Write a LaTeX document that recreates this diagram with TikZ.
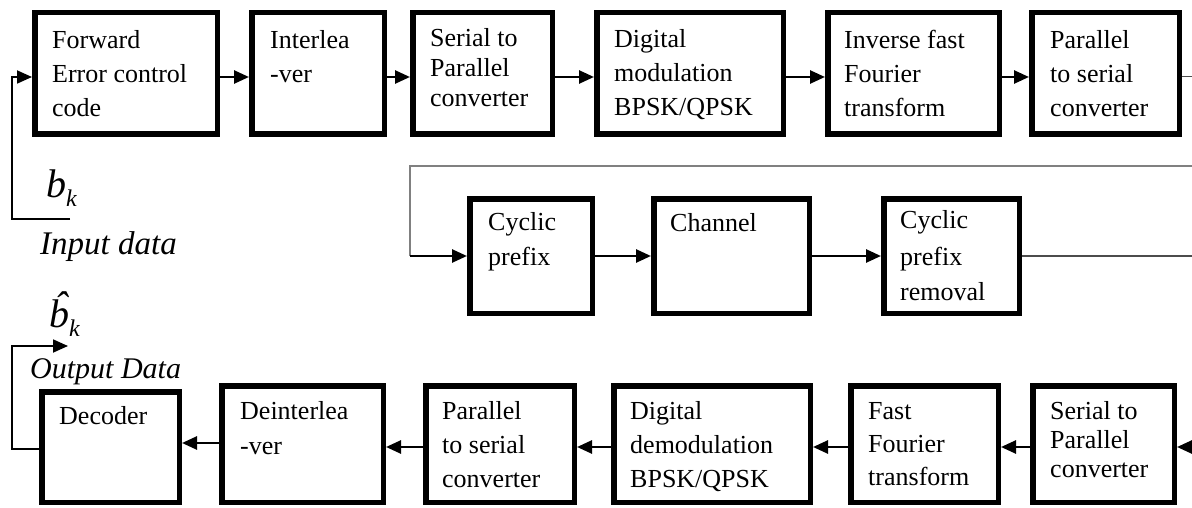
\documentclass[tikz,border=0pt]{standalone}
\usepackage{fontspec}
\setmainfont{Liberation Serif}
\usetikzlibrary{arrows.meta,calc}

\tikzset{
  blk/.style={draw=black, line width=5.5pt, rectangle, inner sep=0pt, fill=white},
  txt/.style={inner sep=0pt, anchor=base west, font=\fontsize{26}{34}\selectfont},
  lbl/.style={inner sep=0pt, anchor=base west},
  arr/.style={line width=2.6pt, draw=black, -{Triangle[length=15pt,width=13pt]}},
  arrthin/.style={line width=1.8pt, draw=black, -{Triangle[length=15pt,width=13pt]}},
  wire/.style={line width=1.7pt, draw=black!70},
  gwire/.style={line width=1.6pt, draw=black!50},
}

% block from outer corner (x1,y1) to (x2,y2), in pixel-like units
\newcommand\blockat[5]{%
  \node[blk, minimum width={(#4-#2-5.5)*1pt}, minimum height={(#5-#3-5.5)*1pt}]
    (#1) at ({(#2+#4)/2},{(#3+#5)/2}) {};}
% left-aligned text lines inside a block, first baseline at the given offset
\newcommand\blocktext[4]{%
  \node[txt] (#1) at ($(#2.north west)+(#3)$) {\begin{tabular}[t]{@{}l@{}}#4\end{tabular}};}

\begin{document}
\begin{tikzpicture}[x=1pt, y=-1pt]
\useasboundingbox (0,0) rectangle (1192,508);

% ---- transmitter chain ----
\blockat{fec}{32}{10}{220}{137}
\blockat{ilv}{249}{10}{387}{137}
\blockat{sp}{410}{10}{555}{137}
\blockat{mod}{594}{10}{786}{137}
\blockat{ifft}{825}{10}{1002}{137}
\blockat{ps}{1029}{10}{1182}{137}

\blocktext{fect}{fec}{20,39}{Forward\\Error control\\code}
\blocktext{ilvt}{ilv}{21,39}{Interlea\\-ver}
\blocktext{spt}{sp}{20,37}{Serial to\\[-4pt]Parallel\\[-4pt]converter}
\blocktext{modt}{mod}{20,38}{Digital\\modulation\\BPSK/QPSK}
\blocktext{ifftt}{ifft}{19,39}{Inverse fast\\Fourier\\transform}
\blocktext{pst}{ps}{21,39}{Parallel\\to serial\\converter}

\draw[arr] ([yshift=-3.5pt]fec.east) -- ([yshift=-3.5pt]ilv.west);
\draw[arr] ([yshift=-3.5pt]ilv.east) -- ([yshift=-3.5pt]sp.west);
\draw[arr] ([yshift=-3.5pt]sp.east) -- ([yshift=-3.5pt]mod.west);
\draw[arr] ([yshift=-3.5pt]mod.east) -- ([yshift=-3.5pt]ifft.west);
\draw[arr] ([yshift=-3.5pt]ifft.east) -- ([yshift=-3.5pt]ps.west);
\coordinate (topout) at (1192,76.5);
\draw[wire] ([yshift=-3pt]ps.east) -- (topout);

% input
\coordinate (instart) at (70,219);
\coordinate (incorner) at (12,219);
\draw[arrthin] (instart) -- (incorner) |- ([yshift=-3.5pt]fec.west);
\node[lbl] (bk) at (46,197) {\fontsize{40}{40}\selectfont\itshape b\raisebox{-9pt}{\fontsize{24}{24}\selectfont k}};
\node[lbl] (indata) at (40,254) {\fontsize{33}{33}\selectfont\itshape Input data};

% ---- channel section ----
\blockat{cp}{467}{196}{595}{316}
\blockat{ch}{651}{196}{812}{316}
\blockat{cpr}{881}{196}{1022}{316}

\blocktext{cpt}{cp}{21,34}{Cyclic\\[1pt]prefix}
\blocktext{cht}{ch}{19,35}{Channel}
\blocktext{cprt}{cpr}{19,33}{Cyclic\\[2pt]prefix\\[2pt]removal}

\coordinate (retin) at (1192,166);
\coordinate (retcorner) at (410,166);
\coordinate (retdown) at (410,256);
\draw[gwire] (retin) -- (retcorner) -- (retdown);
\draw[arr] (retdown) -- (cp.west);
\draw[arr] (cp.east) -- (ch.west);
\draw[arr] (ch.east) -- (cpr.west);
\coordinate (midout) at (1192,256);
\draw[wire] (cpr.east) -- (midout);

% ---- receiver chain ----
\blockat{dec}{39}{389}{182}{505}
\blockat{dil}{219}{383}{386}{505}
\blockat{ps2}{423}{383}{577}{505}
\blockat{dem}{611}{383}{813}{505}
\blockat{fft}{848}{383}{1001}{505}
\blockat{sp2}{1030}{383}{1177}{505}

\blocktext{dect}{dec}{20,35}{Decoder}
\blocktext{dilt}{dil}{21,36}{Deinterlea\\[1pt]-ver}
\blocktext{ps2t}{ps2}{19,36}{Parallel\\to serial\\converter}
\blocktext{demt}{dem}{19,36}{Digital\\demodulation\\BPSK/QPSK}
\blocktext{fftt}{fft}{20,36}{Fast\\[-1pt]Fourier\\[-1pt]transform}
\blocktext{sp2t}{sp2}{20,36}{Serial to\\[-5pt]Parallel\\[-5pt]converter}

\coordinate (botin) at (1192,447);
\draw[arr] (botin) -- ([yshift=-3pt]sp2.east);
\draw[arr] ([yshift=-3pt]sp2.west) -- ([yshift=-3pt]fft.east);
\draw[arr] ([yshift=-3pt]fft.west) -- ([yshift=-3pt]dem.east);
\draw[arr] ([yshift=-3pt]dem.west) -- ([yshift=-3pt]ps2.east);
\draw[arr] ([yshift=-3pt]ps2.west) -- ([yshift=-3pt]dil.east);
\draw[arr] ([yshift=1pt]dil.west) -- ([yshift=4pt]dec.east);

% output
\coordinate (outcorner) at (12,346);
\coordinate (outend) at (68,346);
\draw[arrthin] ([yshift=-2pt]dec.west) -| (outcorner) -- (outend);
\node[lbl] (bhatk) at (49,327) {\fontsize{40}{40}\selectfont\itshape \accent"02C6 b\raisebox{-9pt}{\fontsize{24}{24}\selectfont k}};
\node[lbl] (outdata) at (30,378) {\fontsize{30}{30}\selectfont\itshape Output Data};
\end{tikzpicture}
\end{document}
